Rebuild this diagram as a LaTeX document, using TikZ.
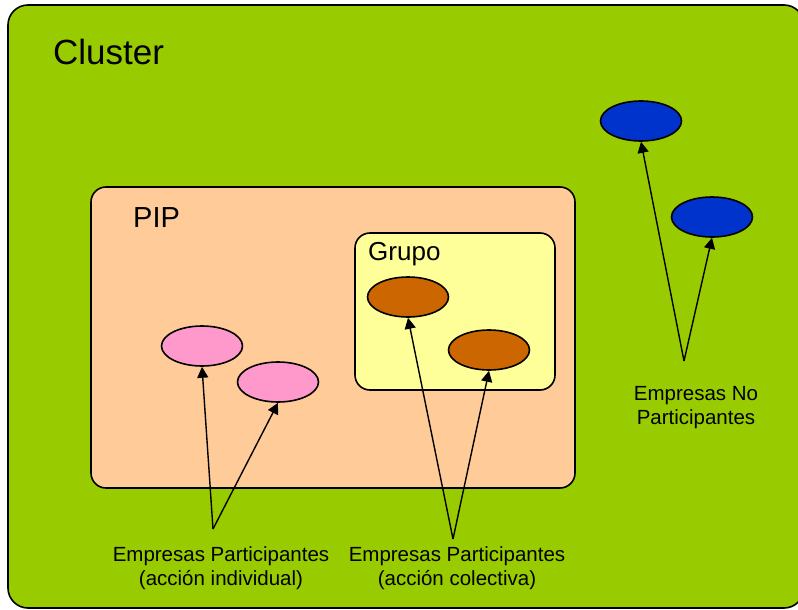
\documentclass[tikz,border=0pt]{standalone}
\usepackage{fontspec}
\setmainfont{Liberation Sans}
\usetikzlibrary{shapes.geometric, arrows.meta}
\definecolor{verdecluster}{HTML}{99CC00}
\definecolor{durazno}{HTML}{FFCC99}
\definecolor{amarillo}{HTML}{FFFF99}
\definecolor{rosa}{HTML}{FF99CC}
\definecolor{naranja}{HTML}{CC6600}
\definecolor{azul}{HTML}{0033CC}
\tikzset{
	x=1pt, y=-1pt, % Unidades en puntos, eje y hacia abajo
	caja/.style={draw, line width=1.6pt, rounded corners=15pt}, % Rectangulos de los conjuntos
	empresa/.style={ellipse, draw, line width=1.6pt, inner sep=0pt,
		minimum width=81pt, minimum height=40pt}, % Nodos de las empresas
	flecha/.style={-{Triangle[length=11pt,width=11pt]}, line width=1.4pt}, % Flechas
	etiqueta/.style={align=center, inner sep=0pt,
		font=\fontsize{20.5}{24}\selectfont} % Texto de las empresas
}

\begin{document}
\begin{tikzpicture}
	\clip (0,0) rectangle (798,610);
	% Conjuntos
	\draw[caja, rounded corners=20pt, fill=verdecluster] (8,5) rectangle (804,608);
	\draw[caja, fill=durazno] (91,187) rectangle (575,488);
	\draw[caja, fill=amarillo] (355,233) rectangle (555,390);
	\node[anchor=base west, inner sep=0pt, font=\fontsize{35}{40}\selectfont] (cluster) at (53,65) {Cluster};
	\node[anchor=base west, inner sep=0pt, font=\fontsize{29}{34}\selectfont] (pip) at (133,227) {PIP};
	\node[anchor=base west, inner sep=0pt, font=\fontsize{26}{30}\selectfont] (grupo) at (368,260) {Grupo};
	% Empresas
	\node[empresa, fill=rosa] (p1) at (202,346) {};
	\node[empresa, fill=rosa] (p2) at (278,382) {};
	\node[empresa, fill=naranja] (c1) at (408,297) {};
	\node[empresa, fill=naranja] (c2) at (489,350) {};
	\node[empresa, fill=azul] (n1) at (641,121) {};
	\node[empresa, fill=azul] (n2) at (712,217) {};
	% Etiquetas
	\coordinate (ai) at (213,529);
	\coordinate (ac) at (453,539);
	\coordinate (an) at (684,361);
	\node[etiqueta] (ind) at (221,568) {Empresas Participantes\\(acción individual)};
	\node[etiqueta] (col) at (457,568) {Empresas Participantes\\(acción colectiva)};
	\node[etiqueta] (nop) at (696,408) {Empresas No\\Participantes};
	% Flechas
	\draw[flecha] (ai) -- (p1.south);
	\draw[flecha] (ai) -- (p2.south);
	\draw[flecha] (ac) -- (c1.south);
	\draw[flecha] (ac) -- (c2.south);
	\draw[flecha] (an) -- (n1.south);
	\draw[flecha] (an) -- (n2.south);
\end{tikzpicture}
\end{document}
